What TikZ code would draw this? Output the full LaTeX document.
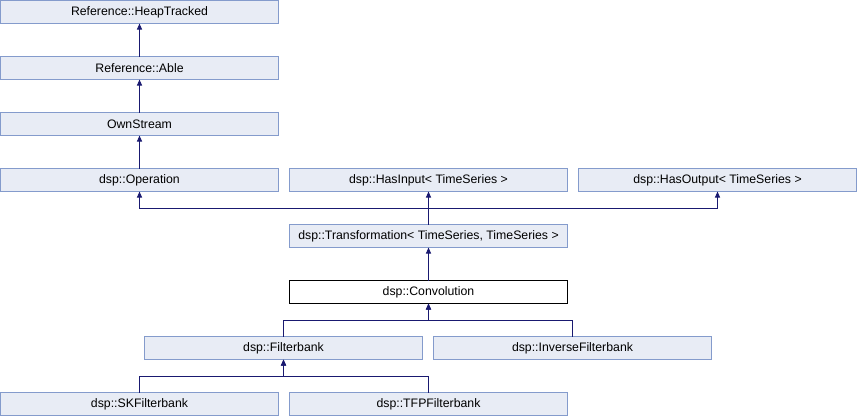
\documentclass[tikz,border=0pt]{standalone}
\usepackage{fontspec}
\setmainfont{Liberation Sans}
\usetikzlibrary{positioning,arrows.meta}

\definecolor{clsfill}{RGB}{232,236,245}
\definecolor{clsdraw}{RGB}{132,155,204}
\definecolor{inhline}{RGB}{25,25,112}

\tikzset{cls/.style = {draw=clsdraw, fill=clsfill, line width=1pt,
                       minimum width=278pt, minimum height=23pt, outer sep=0pt,
                       inner sep=0pt, font=\fontsize{12.3}{14}\selectfont},
         clscur/.style = {cls, draw=black, fill=white},
         inh/.style = {draw=inhline, line width=1pt,
                       -{Triangle[length=6pt,width=5pt]}}
        }

\begin{document}
\begin{tikzpicture}[x=1pt,y=1pt,node distance=33pt and 11pt]
  \useasboundingbox (0,0) rectangle (857,-416);
  \node[cls] (heap) at (139.5,-12) {Reference::HeapTracked};
  \node[cls, below=of heap] (able) {Reference::Able};
  \node[cls, below=of able] (own) {OwnStream};
  \node[cls, below=of own] (op) {dsp::Operation};
  \node[cls, right=of op] (hin) {dsp::HasInput< TimeSeries >};
  \node[cls, right=of hin] (hout) {dsp::HasOutput< TimeSeries >};
  \node[cls, below=of hin] (trans) {dsp::Transformation< TimeSeries, TimeSeries >};
  \node[clscur, below=of trans] (conv) {dsp::Convolution};
  \node[cls, below=of conv, xshift=-145pt] (fb) {dsp::Filterbank};
  \node[cls, right=of fb] (ifb) {dsp::InverseFilterbank};
  \node[cls, below=of fb, xshift=-144pt] (sk) {dsp::SKFilterbank};
  \node[cls, right=of sk] (tfp) {dsp::TFPFilterbank};

  \draw[inh] (able) -- (heap);
  \draw[inh] (own) -- (able);
  \draw[inh] (op) -- (own);
  \draw[inh] (trans) -- (hin);
  \draw[inh] (trans.north) -- ++(0,16) -| (op.south);
  \draw[inh] (trans.north) -- ++(0,16) -| (hout.south);
  \draw[inh] (conv) -- (trans);
  \draw[inh] (fb.north) |- ++(145,16) -- (conv.south);
  \draw[inh] (ifb.north) |- ++(-144,16) -- (conv.south);
  \draw[inh] (sk.north) |- ++(144,16) -- (fb.south);
  \draw[inh] (tfp.north) |- ++(-145,16) -- (fb.south);
\end{tikzpicture}
\end{document}
